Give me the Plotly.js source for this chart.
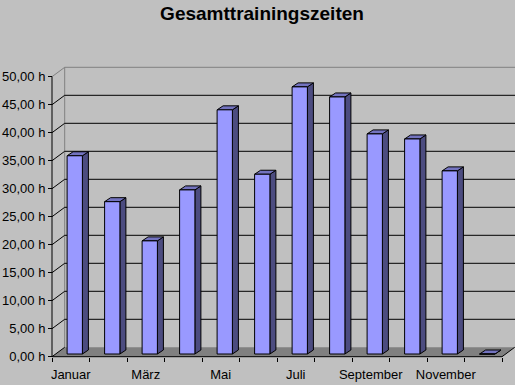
<!DOCTYPE html>
<html>
<head>
<meta charset="utf-8">
<script src="https://cdn.plot.ly/plotly-3.0.1.min.js"></script>
<style>html,body{margin:0;padding:0;background:#C0C0C0;}</style>
</head>
<body>
<div id="chart" style="width:515px;height:385px;"></div>
<script>
// ---- data ----
const months = ['Januar','Februar','März','April','Mai','Juni','Juli','August','September','Oktober','November','Dezember'];
const hours = [35.4, 27.2, 20.2, 29.3, 43.6, 32.1, 47.7, 45.9, 39.3, 38.4, 32.7, 0];
const monthTickLabels = ['Januar','März','Mai','Juli','September','November'];
const hourTickValues = [0, 5, 10, 15, 20, 25, 30, 35, 40, 45, 50];
const hourTickLabels = ['0,00 h','5,00 h','10,00 h','15,00 h','20,00 h','25,00 h','30,00 h','35,00 h','40,00 h','45,00 h','50,00 h'];
const chartTitle = 'Gesamttrainingszeiten';

// ---- geometry / style (pixels converted to axis units) ----
const W = 515, H = 385;
const PX = 37.5, PY = 5.6;          // px per category / px per hour
const LEFT = 52, ZERO_Y = 356.7;    // front plane origin in px
const xRange = [-0.5 - LEFT / PX, -0.5 + (W - LEFT) / PX];
const yRange = [-(H - ZERO_Y) / PY, ZERO_Y / PY];
const WX = 12.7 / PX, WY = 9.4 / PY;            // wall depth
const BX = 4 / PX, BY = 2.7 / PY;               // bar front offset
const HW = 7.65 / PX;                           // half bar width
const DX = 6 / PX, DY = 4 / PY;                 // bar depth
const n = months.length;
const xL = -0.5, xR = n - 0.5;
const yTop = hourTickValues[hourTickValues.length - 1];
const FONT = 'Liberation Sans, Arial, sans-serif';

const traces = [];
// floor
traces.push({type:'scatter', mode:'lines', x:[xL, xR, xR + WX, xL + WX, xL], y:[0, 0, WY, WY, 0],
  fill:'toself', fillcolor:'#808080', line:{width:0}, hoverinfo:'skip', showlegend:false});
// wall frame (gray)
traces.push({type:'scatter', mode:'lines',
  x:[xL + WX, xL + WX, xR + WX + 0.5, null, xL, xL + WX],
  y:[WY, yTop + WY, yTop + WY, null, yTop, yTop + WY],
  line:{color:'#808080', width:1}, hoverinfo:'skip', showlegend:false});
// gridlines on back + side wall (black)
const gx = [], gy = [];
hourTickValues.forEach(v => {
  if (v === yTop) return;
  if (v === 0) { gx.push(xL, xL + WX, null); gy.push(0, WY, null); return; }
  gx.push(xL, xL + WX, xR + WX + 0.5, null); gy.push(v, v + WY, v + WY, null);
});
traces.push({type:'scatter', mode:'lines', x:gx, y:gy, line:{color:'#000', width:1}, hoverinfo:'skip', showlegend:false});
// front axis lines
traces.push({type:'scatter', mode:'lines', x:[xL, xL, null, xL, xR, xR + WX], y:[yTop, 0, null, 0, 0, WY],
  line:{color:'#000', width:1}, hoverinfo:'skip', showlegend:false});
// bar sides and tops
const sx = [], sy = [], tx = [], ty = [];
hours.forEach((v, i) => {
  const l = i + BX - HW, r = i + BX + HW, b = BY, t = v + BY;
  sx.push(r, r + DX, r + DX, r, r, null); sy.push(b, b + DY, t + DY, t, b, null);
  tx.push(l, r, r + DX, l + DX, l, null); ty.push(t, t, t + DY, t + DY, t, null);
});
traces.push({type:'scatter', mode:'lines', x:sx, y:sy, fill:'toself', fillcolor:'#4C4C80',
  line:{color:'#000', width:1}, hoverinfo:'skip', showlegend:false});
traces.push({type:'scatter', mode:'lines', x:tx, y:ty, fill:'toself', fillcolor:'#7373BF',
  line:{color:'#000', width:1}, hoverinfo:'skip', showlegend:false});
// bar fronts (category axis overlay)
traces.push({type:'bar', x:months, y:hours, base:BY, width:2 * HW, offset:BX - HW,
  xaxis:'x2', yaxis:'y2', marker:{color:'#9999FF', line:{color:'#000', width:1}},
  hoverinfo:'x+y', showlegend:false});

const boundaryVals = months.map((m, i) => i - 0.5).concat([n - 0.5]);

const layout = {
  width: W, height: H,
  margin: {l:0, r:0, t:0, b:0, pad:0},
  paper_bgcolor:'#C0C0C0', plot_bgcolor:'rgba(0,0,0,0)',
  showlegend:false, hovermode:false,
  title: {text: chartTitle, font:{family:FONT, size:19, color:'#000', weight:'bold'},
    x: 262 / W, xanchor:'center', xref:'paper', y: 1 - 13 / H, yanchor:'middle', yref:'container'},
  xaxis: {type:'linear', domain:[0,1], range:xRange, anchor:'free', position:(H - ZERO_Y) / H,
    tickmode:'array', tickvals:boundaryVals, showticklabels:false, ticks:'outside', ticklen:4,
    tickcolor:'#000', tickwidth:1, showgrid:false, zeroline:false, showline:false, fixedrange:true},
  yaxis: {type:'linear', domain:[0,1], range:yRange, anchor:'free', position:LEFT / W,
    tickmode:'array', tickvals:hourTickValues, ticktext:hourTickLabels, ticks:'outside', ticklen:4,
    tickcolor:'#000', tickwidth:1, tickfont:{family:FONT, size:13, color:'#000'},
    showgrid:false, zeroline:false, showline:false, fixedrange:true},
  xaxis2: {type:'category', overlaying:'x', range:xRange, anchor:'free', position:(H - ZERO_Y) / H,
    categoryorder:'array', categoryarray:months,
    tickmode:'array', tickvals:monthTickLabels, ticktext:monthTickLabels, ticks:'', ticklabelstandoff:8,
    tickfont:{family:FONT, size:13, color:'#000'},
    showgrid:false, zeroline:false, showline:false, fixedrange:true},
  yaxis2: {type:'linear', overlaying:'y', range:yRange, visible:false, fixedrange:true}
};

Plotly.newPlot('chart', traces, layout, {displayModeBar:false, staticPlot:true});
</script>
</body>
</html>
